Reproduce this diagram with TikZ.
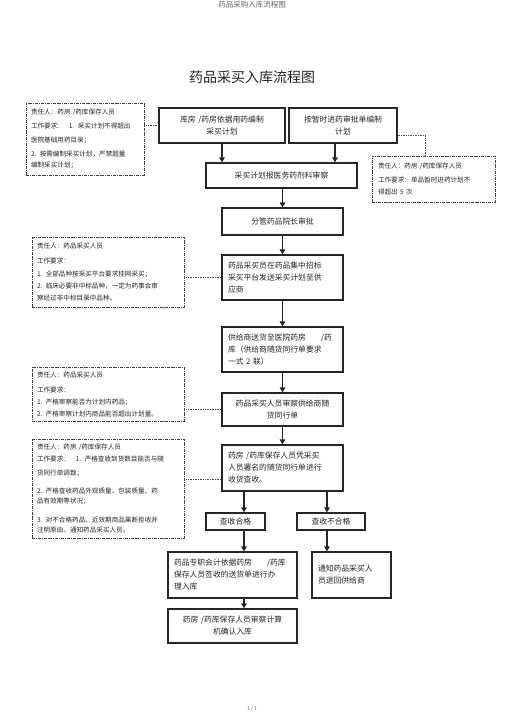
\documentclass[tikz,border=0pt]{standalone}
\usepackage{fontspec}
\setmainfont{Noto Sans CJK SC}
\usetikzlibrary{arrows.meta}

\begin{document}
\begin{tikzpicture}[x=1pt,y=-1pt,
  box/.style={draw=black!85,line width=1.2pt,inner xsep=6pt,inner ysep=0pt,text=black!85,font=\fontsize{7.8}{12}\selectfont},
  note/.style={draw=black!75,line width=0.8pt,densely dash dot,inner xsep=4pt,inner ysep=0pt,text=black!85,align=left,font=\fontsize{6.6}{10}\selectfont},
  arr/.style={draw=black!85,line width=1.5pt,-{Triangle[length=5pt,width=5.5pt]}},
  link/.style={draw=black!70,line width=0.7pt,densely dotted}]
\fill[white] (0,0) rectangle (505,714);
\useasboundingbox (0,0) rectangle (505,714);
\draw (252,5) node[text=black!60,font=\fontsize{7.5}{9}\selectfont] (hdr) {药品采购入库流程图};
\draw (252,77) node[text=black!85,font=\fontsize{14}{16}\selectfont] (title) {药品采买入库流程图};
\draw (252,709) node[text=black!60,font=\fontsize{5}{6}\selectfont] (pg) {1 / 1};
% main column
\draw (222,125.5) node[box,minimum width=126pt,minimum height=35pt,text width=114pt,align=center] (plan) {库房 /药房依据用药编制\\采买计划};
\draw (343,125.5) node[box,minimum width=108pt,minimum height=35pt,text width=96pt,align=center] (tmp) {按暂时进药审批单编制\\计划};
\draw (281.5,175.5) node[box,minimum width=151pt,minimum height=25pt,text width=139pt,align=center] (review) {采买计划报医务药剂科审察};
\draw (282.5,221.5) node[box,minimum width=121pt,minimum height=27pt,text width=109pt,align=center] (approve) {分管药品院长审批};
\draw (282.5,277.5) node[box,minimum width=121pt,minimum height=45pt,text width=109pt,align=left] (send) {药品采买员在药品集中招标\\采买平台发送采买计划至供\\应商};
\draw (282.5,349.5) node[box,minimum width=121pt,minimum height=45pt,text width=109pt,align=left] (deliver) {供给商送货至医院药房\hspace{15pt}/药\\库（供给商随货同行单要求\\一式 2 联）};
\draw (282.5,409.5) node[box,minimum width=121pt,minimum height=33pt,text width=109pt,align=center] (audit) {药品采买人员审察供给商随\\货同行单};
\draw (282.5,468) node[box,minimum width=121pt,minimum height=46pt,text width=109pt,align=left] (check) {药房 /药库保存人员凭采买\\人员署名的随货同行单进行\\收货查收。};
% split
\draw (235.5,521.5) node[box,minimum width=59pt,minimum height=17pt,text width=47pt,align=center] (pass) {查收合格};
\draw (331,521.5) node[box,minimum width=68pt,minimum height=17pt,text width=56pt,align=center] (fail) {查收不合格};
\draw (232.5,575) node[box,minimum width=129pt,minimum height=46pt,text width=117pt,align=left] (account) {药品专职会计依据药房\hspace{15pt}/药库\\保存人员签收的送货单进行办\\理入库};
\draw (351.5,575) node[box,minimum width=79pt,minimum height=46pt,text width=67pt,align=left] (notify) {通知药品采买人\\员退回供给商};
\draw (232.5,626) node[box,minimum width=129pt,minimum height=34pt,text width=117pt,align=center] (confirm) {药房 /药库保存人员审察计算\\机确认入库};
% duty notes
\draw (85,139) node[note,minimum width=118pt,minimum height=72pt,text width=108pt] (r1) {责任人：药房 /药库保存人员\\[4pt]工作要求：\hspace{5pt}1. 采买计划不得超出\\[4pt]医院基础用药目录；\\[4pt]2. 按需编制采买计划，严禁超量\\[1pt]编制采买计划；};
\draw (433.5,179) node[note,minimum width=123pt,minimum height=46pt,text width=111pt] (r2) {责任人：药房 /药库保存人员\\[4pt]工作要求：单品暂时进药计划不\\[2pt]得超出 5 次};
\draw (108,272) node[note,minimum width=152pt,minimum height=70pt,text width=142pt] (r3) {责任人：药品采买人员\\[5pt]工作要求：\\[3pt]1. 全部品种按采买平台要求挂网采买；\\[2pt]2. 临床必要非中标品种，一定为药事会审\\[2pt]察经过非中标目录中品种。};
\draw (108,394) node[note,minimum width=152pt,minimum height=54pt,text width=142pt] (r4) {责任人：药品采买人员\\[5pt]工作要求：\\[2pt]1. 严格审察能否为计划内药品；\\[2pt]2. 严格审察计划内商品能否超出计划量。};
\draw (108,488.5) node[note,minimum width=152pt,minimum height=99pt,text width=142pt] (r5) {责任人：药房 /药库保存人员\\[2pt]工作要求：\hspace{6pt}1. 严格查收到货数目能否与随\\[4pt]货同行单调致；\\[8pt]2. 严格查收药品外观质量、包装质量、药\\品有效期等状况；\\[9pt]3. 对不合格药品、近效期商品果断拒收并\\注明原由，通知药品采买人员。};
% arrows
\coordinate (b1) at ([xshift=-8pt]tmp.south);
\coordinate (cl) at (244,0);
\coordinate (cr) at (327,0);
\draw[arr] (plan.south) -- (plan.south |- review.north);
\draw[arr] (b1) -- (b1 |- review.north);
\draw[arr] (review.south -| approve.north) -- (approve.north);
\draw[arr] (approve.south) -- (send.north);
\draw[arr] (send.south) -- (deliver.north);
\draw[arr] (deliver.south) -- (audit.north);
\draw[arr] (audit.south) -- (check.north);
\draw[arr] (check.south -| cl) -- (pass.north -| cl);
\draw[arr] (check.south -| cr) -- (fail.north -| cr);
\draw[arr] (pass.south -| cl) -- (account.north -| cl);
\draw[arr] (fail.south -| cr) -- (notify.north -| cr);
\draw[arr] (account.south -| cl) -- (confirm.north -| cl);
% dotted links
\coordinate (t1) at ([yshift=-10pt]tmp.east);
\coordinate (t2) at ([xshift=-8pt]r2.north);
\coordinate (h5) at ([yshift=-11pt]check.west);
\draw[link] (plan.west -| r1.east) -- (plan.west);
\draw[link] (t1) -| (t2);
\draw[link] (send.west -| r3.east) -- (send.west);
\draw[link] (audit.west -| r4.east) -- (audit.west);
\draw[link] (h5 -| r5.east) -- (h5);
\end{tikzpicture}
\end{document}
